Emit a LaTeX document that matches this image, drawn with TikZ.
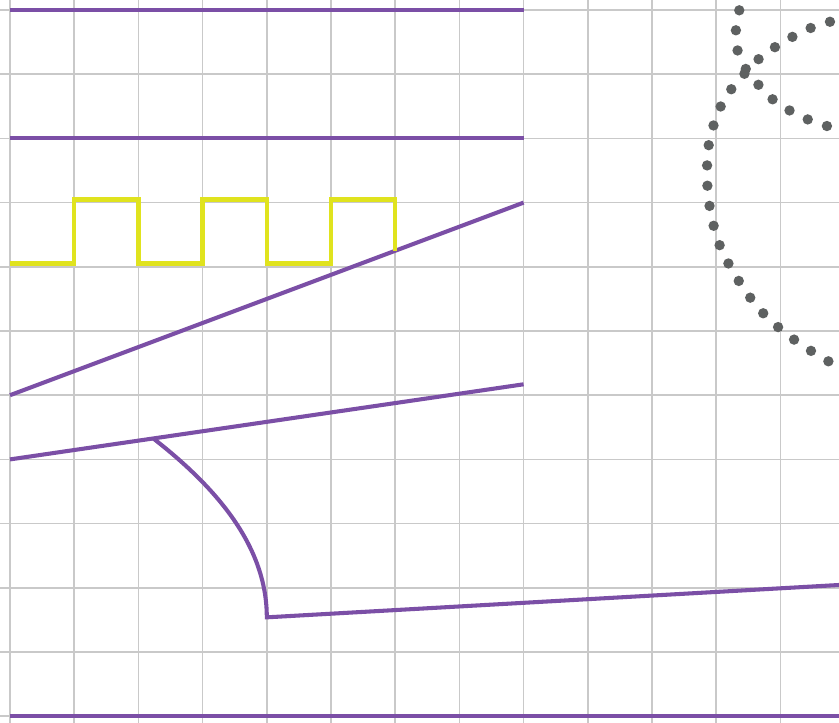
\documentclass[tikz,border=0pt]{standalone}
\usetikzlibrary{calc}
\definecolor{trackpurple}{HTML}{7B4FA6}
\definecolor{pulseyellow}{HTML}{E0E31E}
\definecolor{dotgray}{HTML}{5E6161}
\definecolor{gridgray}{HTML}{C9C9C9}

\tikzset{
  gridline/.style={gridgray, line width=0.75pt},
  track/.style={trackpurple, line width=1.8pt},
  pulse/.style={pulseyellow, line width=1.9pt, line join=miter},
  dotpath/.style={dotgray, line width=4.6pt, line cap=round, dash pattern=on 0pt off 9pt}
}

\begin{document}
\begin{tikzpicture}
  \useasboundingbox (-0.156,-11.106) rectangle (12.913,0.156);
  \clip (-0.156,-11.106) rectangle (12.913,0.156);
  \fill[white] (-0.156,-11.106) rectangle (12.913,0.156);
  \draw[gridline] (-0.156,-11.106) grid (12.913,0.156);

  % straight tracks
  \coordinate (top0) at (0,0);     \coordinate (top1) at (8,0);
  \coordinate (mid0) at (0,-2);    \coordinate (mid1) at (8,-2);
  \coordinate (slant0) at (0,-6);  \coordinate (slant1) at (8,-3);
  \coordinate (arm0) at (0,-7);    \coordinate (arm1) at (8,-5.83);
  \coordinate (base0) at (0,-11);  \coordinate (base1) at (13.2,-11);
  \draw[track] (top0) -- (top1);
  \draw[track] (mid0) -- (mid1);
  \draw[track] (slant0) -- (slant1);
  \draw[track] (arm0) -- (arm1);
  \draw[track] (base0) -- (base1);

  % branch off the arm
  \coordinate (fork) at ($(arm0)!0.279!(arm1)$);
  \coordinate (knee) at (4,-9.46);
  \coordinate (tail) at (13.2,-8.94);
  \draw[track, line join=miter] (fork) to[out=-38,in=90,looseness=0.9] (knee) -- (tail);

  % square pulse, ends on the slant
  \coordinate (pulseend) at ($(slant0)!0.75!(slant1)$);
  \draw[pulse] (0,-3.95) -- (1,-3.95) -- (1,-2.95) -- (2,-2.95) -- (2,-3.95)
    -- (3,-3.95) -- (3,-2.95) -- (4,-2.95) -- (4,-3.95) -- (5,-3.95)
    -- (5,-2.95) -- (6,-2.95) -- (pulseend);

  % dotted curves
  \draw[dotpath] plot[smooth] coordinates {(11.39,0.31) (11.37,0.05) (11.31,-0.26)
    (11.32,-0.58) (11.43,-0.87) (11.62,-1.12) (11.84,-1.36) (12.10,-1.54)
    (12.37,-1.68) (12.66,-1.79) (13.01,-1.87)};
  \draw[dotpath] plot[smooth] coordinates {(13.08,-0.11) (12.82,-0.17) (12.52,-0.26)
    (12.24,-0.39) (11.96,-0.55) (11.70,-0.73) (11.48,-0.95) (11.26,-1.20)
    (11.09,-1.46) (10.97,-1.76) (10.89,-2.06) (10.86,-2.37) (10.86,-2.69)
    (10.89,-3.01) (10.95,-3.32) (11.04,-3.63) (11.17,-3.91) (11.32,-4.17)
    (11.50,-4.44) (11.70,-4.69) (11.93,-4.91) (12.18,-5.11) (12.43,-5.28)
    (12.71,-5.45) (13.01,-5.62)};
\end{tikzpicture}
\end{document}
